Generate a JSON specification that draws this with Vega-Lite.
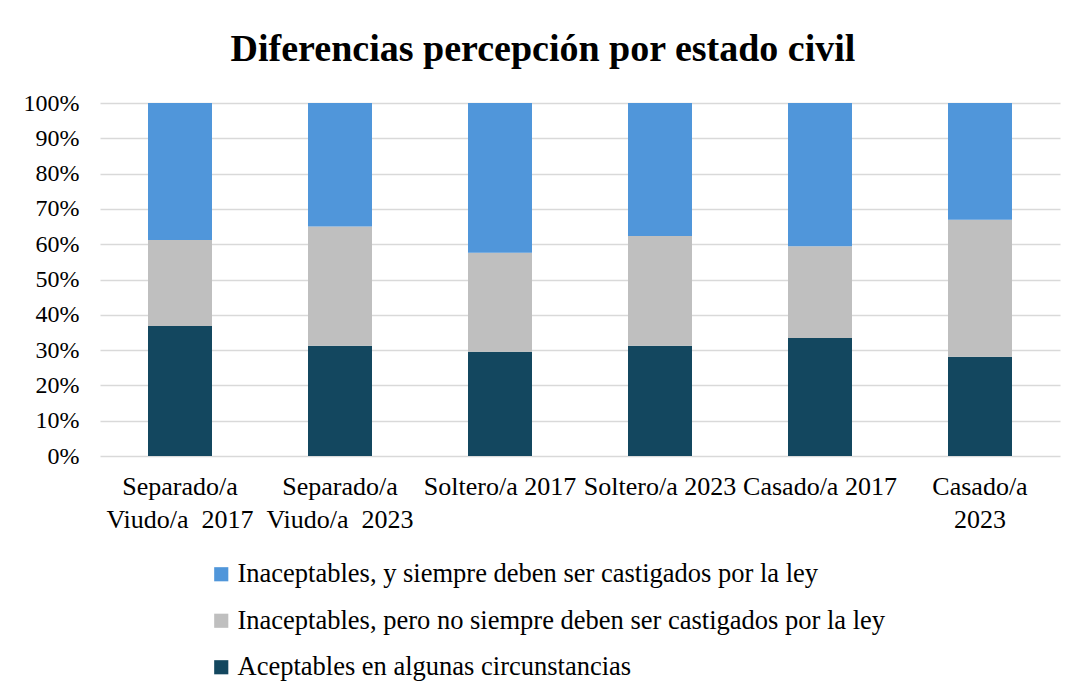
{
  "$schema": "https://vega.github.io/schema/vega-lite/v6.json",
  "width": 960,
  "height": 353,
  "autosize": "none",
  "padding": {"left": 100, "top": 103, "right": 21, "bottom": 240},
  "background": "white",
  "title": {
    "text": "Diferencias percepción por estado civil",
    "font": "Liberation Serif",
    "fontSize": 38,
    "fontWeight": "bold",
    "color": "#000000",
    "anchor": "middle",
    "dx": -37,
    "offset": 22
  },
  "data": {
    "values": [
      {"cat": "Separado/a\nViudo/a\u00a0 2017", "resp": "Aceptables en algunas circunstancias", "ord": 1, "v": 0.368},
      {"cat": "Separado/a\nViudo/a\u00a0 2017", "resp": "Inaceptables, pero no siempre deben ser castigados por la ley", "ord": 2, "v": 0.244},
      {"cat": "Separado/a\nViudo/a\u00a0 2017", "resp": "Inaceptables, y siempre deben ser castigados por la ley", "ord": 3, "v": 0.388},
      {"cat": "Separado/a\nViudo/a\u00a0 2023", "resp": "Aceptables en algunas circunstancias", "ord": 1, "v": 0.312},
      {"cat": "Separado/a\nViudo/a\u00a0 2023", "resp": "Inaceptables, pero no siempre deben ser castigados por la ley", "ord": 2, "v": 0.338},
      {"cat": "Separado/a\nViudo/a\u00a0 2023", "resp": "Inaceptables, y siempre deben ser castigados por la ley", "ord": 3, "v": 0.350},
      {"cat": "Soltero/a 2017", "resp": "Aceptables en algunas circunstancias", "ord": 1, "v": 0.295},
      {"cat": "Soltero/a 2017", "resp": "Inaceptables, pero no siempre deben ser castigados por la ley", "ord": 2, "v": 0.281},
      {"cat": "Soltero/a 2017", "resp": "Inaceptables, y siempre deben ser castigados por la ley", "ord": 3, "v": 0.424},
      {"cat": "Soltero/a 2023", "resp": "Aceptables en algunas circunstancias", "ord": 1, "v": 0.312},
      {"cat": "Soltero/a 2023", "resp": "Inaceptables, pero no siempre deben ser castigados por la ley", "ord": 2, "v": 0.311},
      {"cat": "Soltero/a 2023", "resp": "Inaceptables, y siempre deben ser castigados por la ley", "ord": 3, "v": 0.377},
      {"cat": "Casado/a 2017", "resp": "Aceptables en algunas circunstancias", "ord": 1, "v": 0.334},
      {"cat": "Casado/a 2017", "resp": "Inaceptables, pero no siempre deben ser castigados por la ley", "ord": 2, "v": 0.260},
      {"cat": "Casado/a 2017", "resp": "Inaceptables, y siempre deben ser castigados por la ley", "ord": 3, "v": 0.406},
      {"cat": "Casado/a\n2023", "resp": "Aceptables en algunas circunstancias", "ord": 1, "v": 0.281},
      {"cat": "Casado/a\n2023", "resp": "Inaceptables, pero no siempre deben ser castigados por la ley", "ord": 2, "v": 0.388},
      {"cat": "Casado/a\n2023", "resp": "Inaceptables, y siempre deben ser castigados por la ley", "ord": 3, "v": 0.331}
    ]
  },
  "mark": {"type": "bar"},
  "encoding": {
    "x": {
      "field": "cat",
      "type": "nominal",
      "sort": null,
      "scale": {"paddingInner": 0.6, "paddingOuter": 0.3},
      "axis": {
        "title": null,
        "labelAngle": 0,
        "labelExpr": "split(datum.value, '\\n')",
        "labelFont": "Liberation Serif",
        "labelFontSize": 26,
        "labelColor": "#000000",
        "labelLineHeight": 33,
        "labelBaseline": "top",
        "labelPadding": 17,
        "labelOverlap": false,
        "ticks": false,
        "domain": false,
        "grid": false
      }
    },
    "y": {
      "field": "v",
      "type": "quantitative",
      "stack": "zero",
      "scale": {"domain": [0, 1], "nice": false},
      "axis": {
        "title": null,
        "format": ".0%",
        "values": [0, 0.1, 0.2, 0.3, 0.4, 0.5, 0.6, 0.7, 0.8, 0.9, 1.0],
        "labelOverlap": false,
        "labelFont": "Liberation Serif",
        "labelFontSize": 24,
        "labelColor": "#000000",
        "labelPadding": 21,
        "ticks": false,
        "domain": false,
        "grid": true,
        "gridColor": "#D9D9D9",
        "gridWidth": 1.5
      }
    },
    "color": {
      "field": "resp",
      "type": "nominal",
      "scale": {
        "domain": [
          "Inaceptables, y siempre deben ser castigados por la ley",
          "Inaceptables, pero no siempre deben ser castigados por la ley",
          "Aceptables en algunas circunstancias"
        ],
        "range": ["#5096DA", "#BFBFBF", "#13475F"]
      },
      "legend": {
        "title": null,
        "orient": "none",
        "legendX": 108,
        "legendY": 458,
        "direction": "vertical",
        "symbolType": "square",
        "symbolSize": 200,
        "symbolStrokeWidth": 0,
        "labelFont": "Liberation Serif",
        "labelFontSize": 26.5,
        "labelColor": "#000000",
        "labelOffset": 3,
        "rowPadding": 19.5,
        "labelLimit": 900
      }
    },
    "order": {"field": "ord", "type": "quantitative", "sort": "ascending"}
  },
  "config": {
    "view": {"stroke": null}
  }
}
